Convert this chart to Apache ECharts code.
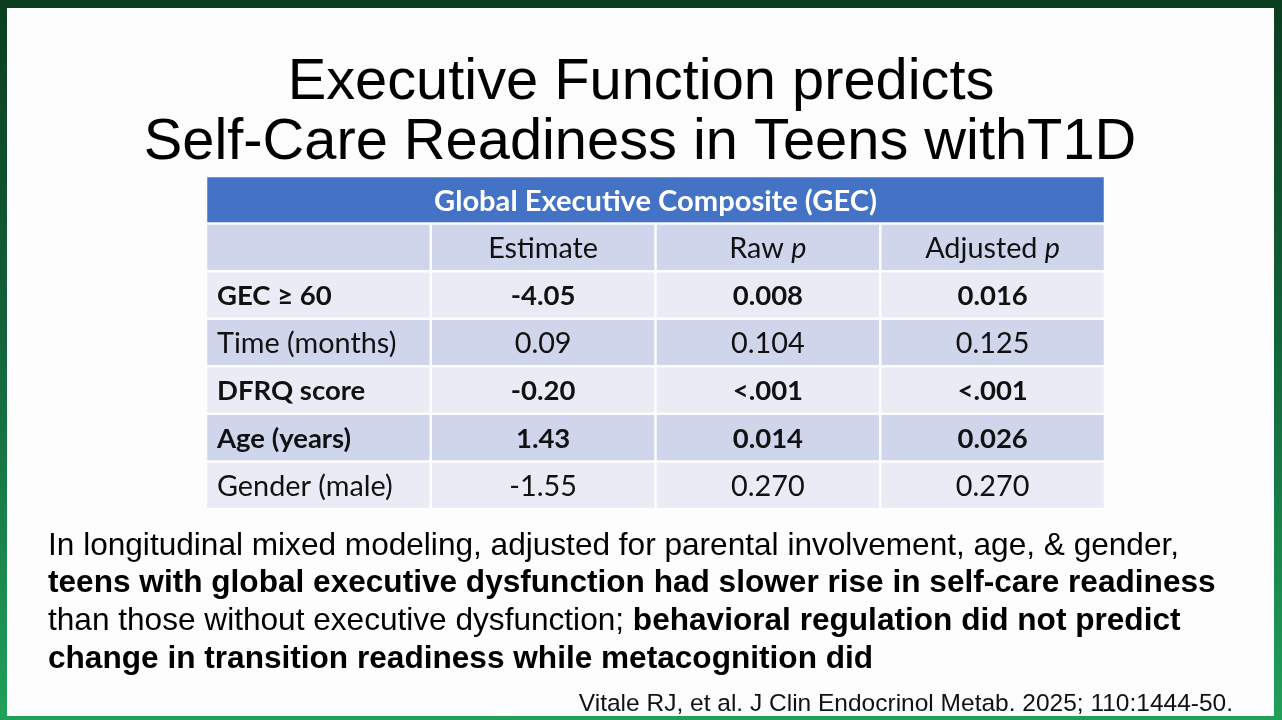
<!DOCTYPE html>
<html><head><meta charset="utf-8">
<script src="https://cdn.jsdelivr.net/npm/echarts@6/dist/echarts.min.js"></script>
<style>
html,body{margin:0;padding:0;width:1282px;height:720px;overflow:hidden;background:linear-gradient(to bottom,#0b3d21 0%,#12613a 45%,#21a05a 100%);}
#slide{position:absolute;left:7px;top:8px;width:1267px;height:708px;background:#fdfdfd;}
#chart{position:absolute;left:0;top:0;width:1282px;height:720px;}
</style></head><body><div id="slide"></div><div id="chart"></div>
<script>
// ---- data ----
const slideTitle = ['Executive Function predicts', 'Self-Care Readiness in Teens withT1D'];
const tableTitle = 'Global Executive Composite (GEC)';
const columnHeaders = ['', 'Estimate', 'Raw p', 'Adjusted p'];
const predictors = ['GEC ≥ 60', 'Time (months)', 'DFRQ score', 'Age (years)', 'Gender (male)'];
const estimates = ['-4.05', '0.09', '-0.20', '1.43', '-1.55'];
const rawP = ['0.008', '0.104', '<.001', '0.014', '0.270'];
const adjustedP = ['0.016', '0.125', '<.001', '0.026', '0.270'];
const significant = [true, false, true, true, false];
const citation = 'Vitale RJ, et al. J Clin Endocrinol Metab. 2025; 110:1444-50.';

// ---- build table cells ----
const rowKeys = ['title', 'header'].concat(predictors);
const colKeys = ['Predictor', 'Estimate', 'Raw p', 'Adjusted p'];
const cells = [];
cells.push({ value: [0, 0], kind: 'title', text: tableTitle });
columnHeaders.forEach((h, c) => cells.push({ value: [c, 1], kind: 'head', text: h }));
predictors.forEach((p, r) => {
  const vals = [p, estimates[r], rawP[r], adjustedP[r]];
  vals.forEach((v, c) => cells.push({ value: [c, r + 2], kind: 'body', text: v, bold: significant[r], row: r }));
});

const TF = 'Lato, "Open Sans", sans-serif';
const AF = '"Liberation Sans", Arial, sans-serif';
const bodyColors = ['#E9EBF5', '#CFD5EA'];
const NORMAL_SIZE = 28.8, BOLD_SIZE = 27.5, TITLE_SIZE = 29.1;

function fmtHeader(t) {
  const m = t.match(/^(.*) p$/);
  if (m) return '{n|' + m[1] + ' }{i|p}';
  return '{n|' + t + '}';
}

function renderItem(params, api) {
  const cell = cells[params.dataIndex];
  const c = api.coord([api.value(0), api.value(1)]);
  const s = api.size([1, 1]);
  const g = 1.25;
  let x = c[0] - s[0] / 2, y = c[1] - s[1] / 2, w = s[0], h = s[1];
  let fill, txt, align = 'center', tx = c[0], weight = 'normal', color = '#111', rich, size = NORMAL_SIZE;
  if (cell.kind === 'title') {
    w = s[0] * colKeys.length;
    fill = '#4472C4';
    tx = x + w / 2;
    weight = 'bold';
    color = '#ffffff';
    size = TITLE_SIZE;
    txt = cell.text;
  } else if (cell.kind === 'head') {
    fill = '#CFD5EA';
    txt = fmtHeader(cell.text);
    rich = {
      n: { fontFamily: TF, fontSize: NORMAL_SIZE, fill: '#111' },
      i: { fontFamily: TF, fontSize: NORMAL_SIZE, fill: '#111', fontStyle: 'italic' }
    };
  } else {
    fill = bodyColors[cell.row % 2];
    txt = cell.text;
    weight = cell.bold ? 'bold' : 'normal';
    size = cell.bold ? BOLD_SIZE : NORMAL_SIZE;
  }
  if (api.value(0) === 0 && cell.kind !== 'title') { align = 'left'; tx = x + 11; }
  const children = [{
    type: 'rect',
    shape: { x: x + g, y: y + g, width: w - 2 * g, height: h - 2 * g },
    style: { fill: fill }
  }];
  if (txt) {
    const st = { text: txt, x: tx, y: c[1] + 1.5, align: align, verticalAlign: 'middle',
      fontFamily: TF, fontSize: size, fontWeight: weight, fill: color };
    if (rich) st.rich = rich;
    children.push({ type: 'text', style: st });
  }
  return { type: 'group', children: children };
}

const BS = 31.6;
const bodyRich = { n: { fontFamily: AF, fontSize: BS, fill: '#000' }, b: { fontFamily: AF, fontSize: BS, fontWeight: 'bold', fill: '#000' } };

const chart = echarts.init(document.getElementById('chart'), null, { renderer: 'canvas' });
chart.setOption({
  animation: false,
  backgroundColor: 'transparent',
  grid: { left: 206, top: 176, width: 899, height: 333, containLabel: false },
  xAxis: { type: 'category', data: colKeys, show: false },
  yAxis: { type: 'category', data: rowKeys, inverse: true, show: false },
  series: [{
    type: 'custom',
    renderItem: renderItem,
    data: cells.map(c => c.value),
    encode: { x: 0, y: 1 }
  }],
  graphic: [
    { type: 'text', style: { text: slideTitle[0], x: 641, y: 83, align: 'center', verticalAlign: 'middle', fontFamily: AF, fontSize: 57.8, fill: '#000' } },
    { type: 'text', style: { text: slideTitle[1], x: 640, y: 143, align: 'center', verticalAlign: 'middle', fontFamily: AF, fontSize: 57.8, fill: '#000' } },
    { type: 'text', style: { text: '{n|In longitudinal mixed modeling, adjusted for parental involvement, age, & gender,}', x: 48, y: 546, verticalAlign: 'middle', rich: bodyRich } },
    { type: 'text', style: { text: '{b|teens with global executive dysfunction had slower rise in self-care readiness}', x: 48, y: 583, verticalAlign: 'middle', rich: bodyRich } },
    { type: 'text', style: { text: '{n|than those without executive dysfunction; }{b|behavioral regulation did not predict}', x: 48, y: 621, verticalAlign: 'middle', rich: bodyRich } },
    { type: 'text', style: { text: '{b|change in transition readiness while metacognition did}', x: 48, y: 659, verticalAlign: 'middle', rich: bodyRich } },
    { type: 'text', style: { text: citation, x: 1233, y: 704, align: 'right', verticalAlign: 'middle', fontFamily: AF, fontSize: 24.5, fill: '#111' } }
  ]
});
</script></body></html>
